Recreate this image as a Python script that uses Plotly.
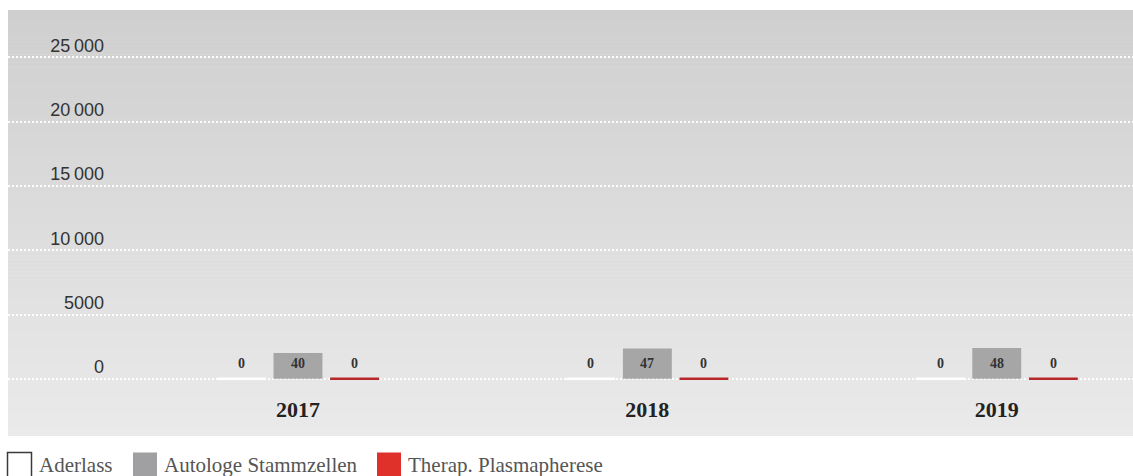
import plotly.graph_objects as go

# ---- data -------------------------------------------------------------
years = ["2017", "2018", "2019"]
aderlass = [0, 0, 0]
autologe_stammzellen = [40, 47, 48]
therap_plasmapherese = [0, 0, 0]
series_names = ["Aderlass", "Autologe Stammzellen", "Therap. Plasmapherese"]

y_tickvals = [0, 5000, 10000, 15000, 20000, 25000]
y_ticktext = ["0", "5000", "10\u2009000", "15\u2009000", "20\u2009000", "25\u2009000"]

# ---- geometry / style -------------------------------------------------
W, H = 1133, 476
ML, MR, MT, MB = 8, 0, 10, 86
PW = W - ML - MR
PH = H - MT - MB

Y_RANGE = [-870, 28680]
X_RANGE = [-0.83, 2.39]
STAMM_SCALE = 50          # stem-cell counts use their own compressed axis
BAR_W = 0.14
OFFSETS = [-0.162, 0.0, 0.162]

COL_WHITE = "#ffffff"
COL_GREY = "#a6a6a7"
COL_RED_BAR = "#b8282a"
COL_RED_KEY = "#e0302a"

SERIF = "Liberation Serif"
SANS = "Liberation Sans"


def px_x(px):
    return (px - ML) / PW


def px_y(py):
    return (H - MB - py) / PH


pos = list(range(len(years)))

fig = go.Figure()

# zero-valued series: bars plus a 2px cap line at the bar top
for values, off, col in [(aderlass, OFFSETS[0], COL_WHITE),
                         (therap_plasmapherese, OFFSETS[2], COL_RED_BAR)]:
    fig.add_trace(go.Bar(
        x=pos, y=values, width=BAR_W, offset=off - BAR_W / 2,
        marker=dict(color=col, line=dict(width=0)),
        showlegend=False, hoverinfo="skip",
    ))
    xs, ys = [], []
    for i, v in zip(pos, values):
        xs += [i + off - BAR_W / 2, i + off + BAR_W / 2, None]
        ys += [v, v, None]
    fig.add_trace(go.Scatter(
        x=xs, y=ys, mode="lines", line=dict(color=col, width=2.5),
        showlegend=False, hoverinfo="skip",
    ))

# stem-cell bars on the secondary (compressed) axis
fig.add_trace(go.Bar(
    x=pos, y=autologe_stammzellen, width=BAR_W, offset=OFFSETS[1] - BAR_W / 2,
    marker=dict(color=COL_GREY, line=dict(width=0)),
    yaxis="y2", showlegend=False, hoverinfo="skip",
))

# carrier for the tick-label axis
fig.add_trace(go.Scatter(x=[None], y=[None], yaxis="y3", mode="none",
                         showlegend=False, hoverinfo="skip"))

# value labels, all sitting just above the baseline
annotations = []
for values, off, yref in [(aderlass, OFFSETS[0], "y"),
                          (autologe_stammzellen, OFFSETS[1], "y2"),
                          (therap_plasmapherese, OFFSETS[2], "y")]:
    for i, v in zip(pos, values):
        annotations.append(dict(
            x=i + off, y=0, xref="x", yref=yref, text=str(v),
            showarrow=False, xanchor="center", yanchor="bottom", yshift=6,
            font=dict(family=SERIF, size=14, color="#333333", weight="bold"),
        ))

# gradient backdrop built from thin horizontal bands
shapes = []
top_rgb = (207, 207, 208)
bot_rgb = (234, 234, 234)
bg_top, bg_bot = 10, 436
n_bands = 106
band_h = (bg_bot - bg_top) / n_bands
for k in range(n_bands):
    t = k / (n_bands - 1)
    c = tuple(round(a + (b - a) * t) for a, b in zip(top_rgb, bot_rgb))
    y0 = bg_top + k * band_h
    y1 = min(bg_bot, y0 + band_h + 0.6)
    shapes.append(dict(
        type="rect", xref="paper", yref="paper", layer="below",
        x0=px_x(8), x1=px_x(W), y0=px_y(y1), y1=px_y(y0),
        fillcolor="rgb(%d,%d,%d)" % c, line=dict(width=0),
    ))

# key below the chart
key_items = [
    (series_names[0], "#ffffff", "#3a3a3a", 7.5),
    (series_names[1], "#a0a0a3", "#a0a0a3", 133),
    (series_names[2], COL_RED_KEY, COL_RED_KEY, 377),
]
for name, fill, edge, x0 in key_items:
    shapes.append(dict(
        type="rect", xref="paper", yref="paper", layer="above",
        x0=px_x(x0), x1=px_x(x0 + 24), y0=px_y(477), y1=px_y(452.5),
        fillcolor=fill, line=dict(color=edge, width=1.5 if fill == "#ffffff" else 0),
    ))
    annotations.append(dict(
        x=px_x(x0 + 29), y=px_y(465), xref="paper", yref="paper",
        text=name, showarrow=False, xanchor="left", yanchor="middle",
        font=dict(family=SERIF, size=21, color="#555555"),
    ))

fig.update_layout(
    width=W, height=H,
    margin=dict(l=ML, r=MR, t=MT, b=MB, pad=0),
    paper_bgcolor="#ffffff", plot_bgcolor="rgba(0,0,0,0)",
    barmode="overlay", showlegend=False, hovermode=False,
    shapes=shapes, annotations=annotations,
    xaxis=dict(
        range=X_RANGE, tickvals=pos, ticktext=years, showgrid=False,
        zeroline=False, showline=False, ticks="", ticklabelstandoff=4,
        tickfont=dict(family=SERIF, size=22, color="#222222", weight="bold"),
        fixedrange=True,
    ),
    yaxis=dict(
        range=Y_RANGE, tickvals=y_tickvals, showticklabels=False,
        showgrid=True, gridcolor="rgba(255,255,255,0.95)", gridwidth=2,
        griddash="2px,2px", zeroline=False, showline=False, ticks="",
        fixedrange=True,
    ),
    yaxis2=dict(
        range=[r / STAMM_SCALE for r in Y_RANGE], overlaying="y",
        visible=False, fixedrange=True,
    ),
    yaxis3=dict(
        range=Y_RANGE, overlaying="y", anchor="free", position=px_x(104),
        side="left", tickvals=y_tickvals, ticktext=y_ticktext,
        showgrid=False, zeroline=False, showline=False, ticks="",
        ticklabelshift=-12,
        tickfont=dict(family=SANS, size=18, color="#333333"),
        fixedrange=True,
    ),
)

fig.write_html("out.html", config={"displayModeBar": False, "staticPlot": True})
